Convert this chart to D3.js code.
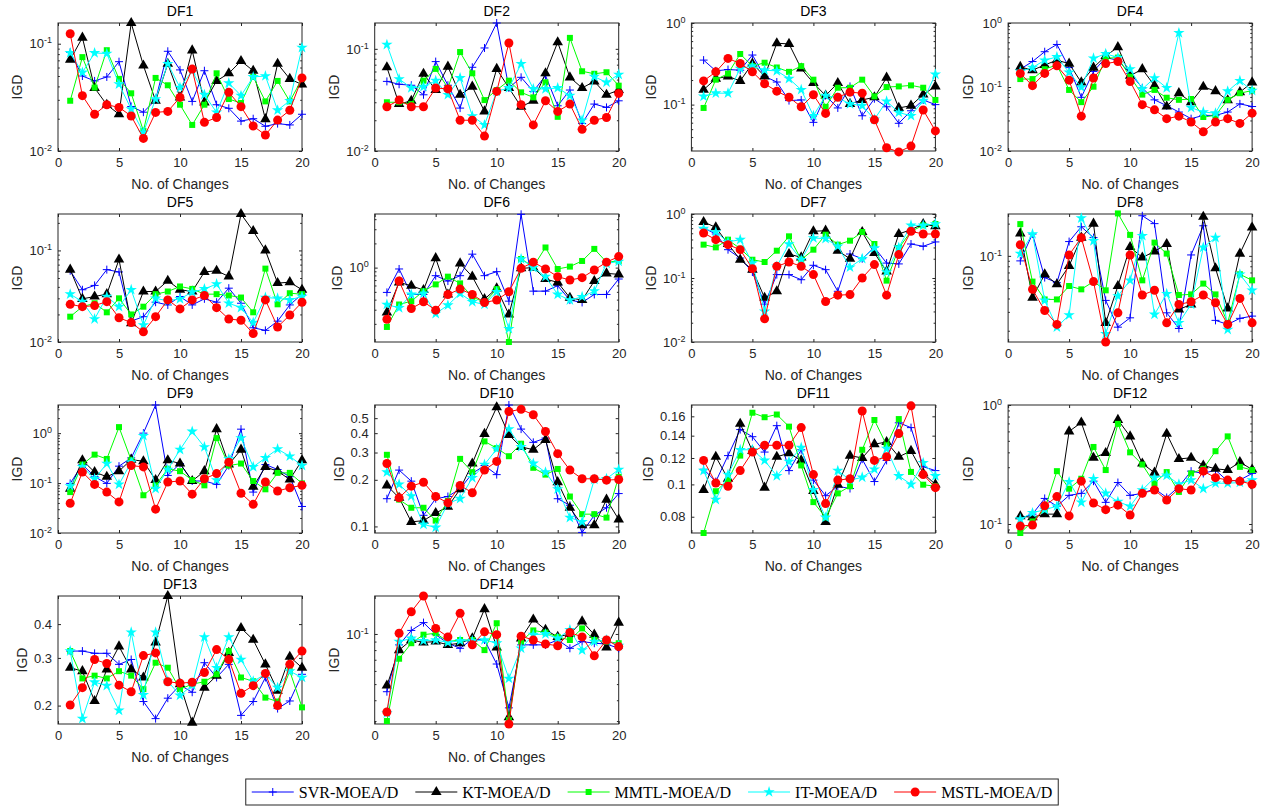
<!DOCTYPE html>
<meta charset="utf-8">
<title>IGD vs number of changes</title>
<style>

body {
  margin: 0;
  background: #fff;
}

svg {
  font-family: "Liberation Sans", Arial, sans-serif;
}

.axis text {
  fill: #262626;
  font-size: 13px;
}

.axis line {
  stroke: #262626;
}

</style>
<body>
<script src="https://d3js.org/d3.v7.min.js"></script>
<script>

var problems = ["DF1", "DF2", "DF3", "DF4", "DF5", "DF6", "DF7", "DF8", "DF9", "DF10", "DF11", "DF12", "DF13", "DF14"];
var algorithms = ["SVR-MOEA/D", "KT-MOEA/D", "MMTL-MOEA/D", "IT-MOEA/D", "MSTL-MOEA/D"];
var changes = d3.range(1, 21);
var xTicks = [0, 5, 10, 15, 20];

// y limits of every panel (log axes)
var yLimits = [
  [0.01, 0.156], [0.01, 0.179], [0.027, 1], [0.01, 1],
  [0.01, 0.25], [0.119, 4.64], [0.01, 1], [0.0157, 0.246],
  [0.01, 3.66], [0.0907, 0.608], [0.0715, 0.173], [0.084, 1],
  [0.171, 0.508], [0.0288, 0.169]
];

// panels that show plain decimal tick labels instead of powers of ten
var decimalTicks = {
  DF10: [0.1, 0.2, 0.3, 0.4, 0.5],
  DF11: [0.08, 0.1, 0.12, 0.14, 0.16],
  DF13: [0.2, 0.3, 0.4]
};

var svr = [
  [0.083,0.050,0.045,0.049,0.068,0.026,0.023,0.030,0.085,0.057,0.029,0.056,0.027,0.025,0.019,0.020,0.017,0.018,0.0175,0.022],
  [0.048,0.045,0.044,0.0355,0.075,0.044,0.0263,0.066,0.102,0.179,0.0414,0.0526,0.0383,0.0547,0.0277,0.0395,0.0186,0.0288,0.0267,0.031],
  [0.351,0.259,0.269,0.264,0.405,0.222,0.189,0.112,0.114,0.0606,0.129,0.091,0.167,0.073,0.118,0.094,0.059,0.084,0.114,0.1],
  [0.19,0.25,0.356,0.462,0.201,0.069,0.175,0.288,0.262,0.163,0.097,0.063,0.051,0.0406,0.032,0.036,0.036,0.0406,0.0545,0.0495],
  [0.060,0.0372,0.0415,0.0617,0.0582,0.0169,0.0189,0.0272,0.0254,0.0314,0.0254,0.0296,0.0272,0.0387,0.0265,0.0143,0.0134,0.0169,0.0254,0.0333],
  [0.492,0.962,0.464,0.464,0.794,0.681,0.794,1.47,0.794,0.891,0.383,4.6,0.51,0.51,0.596,0.395,0.369,0.464,0.464,0.722],
  [0.604,0.487,0.277,0.205,0.124,0.039,0.113,0.113,0.094,0.158,0.135,0.062,0.237,0.2,0.301,0.171,0.166,0.34,0.313,0.366],
  [0.0898,0.16,0.0627,0.0562,0.136,0.187,0.148,0.0384,0.0216,0.0264,0.237,0.2,0.0294,0.021,0.102,0.191,0.025,0.0229,0.0261,0.0274],
  [0.0985,0.235,0.134,0.0985,0.218,0.319,1.0,3.66,0.142,0.246,0.11,0.11,0.094,0.224,1.2,0.066,0.235,0.187,0.134,0.034],
  [0.151,0.231,0.196,0.118,0.151,0.156,0.175,0.22,0.247,0.216,0.608,0.425,0.349,0.372,0.151,0.137,0.0915,0.118,0.132,0.163],
  [0.111,0.102,0.122,0.146,0.139,0.125,0.150,0.110,0.127,0.103,0.0925,0.0987,0.0972,0.119,0.102,0.118,0.153,0.148,0.113,0.110],
  [0.111,0.121,0.164,0.141,0.174,0.181,0.229,0.152,0.223,0.174,0.181,0.198,0.167,0.206,0.278,0.266,0.284,0.229,0.234,0.266],
  [0.318,0.318,0.312,0.312,0.284,0.296,0.207,0.179,0.213,0.238,0.224,0.288,0.254,0.284,0.184,0.207,0.254,0.195,0.208,0.261],
  [0.045,0.086,0.105,0.117,0.099,0.088,0.082,0.093,0.092,0.066,0.036,0.086,0.086,0.086,0.092,0.082,0.090,0.088,0.087,0.082]
];

var kt = [
  [0.071,0.114,0.0387,0.027,0.022,0.156,0.0626,0.0294,0.065,0.0316,0.0866,0.0284,0.045,0.053,0.069,0.056,0.0198,0.065,0.047,0.0416],
  [0.066,0.0288,0.031,0.057,0.0395,0.067,0.0355,0.0426,0.0244,0.0636,0.0414,0.0271,0.031,0.0576,0.116,0.0526,0.0414,0.048,0.0355,0.0395],
  [0.152,0.208,0.222,0.195,0.319,0.222,0.565,0.554,0.277,0.184,0.129,0.184,0.102,0.114,0.123,0.214,0.091,0.097,0.133,0.167],
  [0.206,0.183,0.221,0.262,0.232,0.118,0.201,0.305,0.42,0.15,0.19,0.105,0.0495,0.08,0.058,0.101,0.086,0.062,0.083,0.118],
  [0.0617,0.0296,0.0314,0.0333,0.0796,0.016,0.0356,0.0356,0.0467,0.0372,0.0356,0.0582,0.060,0.052,0.25,0.163,0.1,0.044,0.045,0.0372],
  [0.277,0.655,0.596,0.526,1.31,0.464,1.13,0.772,0.406,0.552,0.261,0.98,1.0,0.722,0.655,0.422,0.395,0.681,0.849,0.825],
  [0.75,0.619,0.34,0.193,0.135,0.049,0.062,0.237,0.21,0.536,0.549,0.267,0.2,0.523,0.246,0.127,0.487,0.569,0.698,0.642],
  [0.162,0.0407,0.0673,0.0543,0.0806,0.148,0.2,0.0237,0.0523,0.121,0.0965,0.11,0.129,0.0316,0.0352,0.232,0.0766,0.0323,0.105,0.184],
  [0.0771,0.287,0.166,0.134,0.173,0.295,0.273,0.115,0.287,0.246,0.11,0.173,1.2,0.235,0.467,0.0846,0.211,0.173,0.118,0.287],
  [0.184,0.153,0.107,0.109,0.122,0.134,0.174,0.255,0.396,0.588,0.39,0.326,0.313,0.362,0.193,0.132,0.102,0.102,0.149,0.111],
  [0.0963,0.121,0.104,0.152,0.126,0.0978,0.121,0.124,0.118,0.0956,0.0772,0.0998,0.122,0.12,0.132,0.134,0.121,0.126,0.108,0.1],
  [0.116,0.114,0.121,0.121,0.6,0.712,0.36,0.395,0.75,0.545,0.322,0.27,0.573,0.352,0.36,0.31,0.291,0.284,0.331,0.287],
  [0.276,0.268,0.208,0.272,0.331,0.272,0.254,0.342,0.508,0.240,0.173,0.233,0.258,0.313,0.387,0.350,0.284,0.227,0.303,0.276],
  [0.049,0.080,0.092,0.089,0.090,0.086,0.088,0.094,0.141,0.083,0.0316,0.094,0.122,0.106,0.096,0.1,0.119,0.099,0.083,0.117]
];

var mmtl = [
  [0.0294,0.075,0.039,0.087,0.047,0.0345,0.0154,0.048,0.041,0.027,0.0175,0.027,0.053,0.0305,0.028,0.049,0.029,0.045,0.029,0.047],
  [0.03,0.03,0.0288,0.0488,0.0636,0.0414,0.093,0.0576,0.0315,0.0395,0.0488,0.0375,0.0335,0.047,0.0216,0.128,0.0603,0.057,0.059,0.0436],
  [0.091,0.202,0.24,0.417,0.296,0.326,0.285,0.252,0.296,0.202,0.094,0.161,0.161,0.202,0.126,0.164,0.167,0.172,0.161,0.114],
  [0.133,0.133,0.19,0.221,0.09,0.058,0.101,0.281,0.288,0.145,0.076,0.09,0.068,0.063,0.065,0.034,0.036,0.063,0.08,0.088],
  [0.0189,0.0243,0.0265,0.0211,0.030,0.02,0.0243,0.0333,0.0356,0.0404,0.038,0.0333,0.0333,0.0322,0.0306,0.0211,0.0633,0.0258,0.0341,0.0333],
  [0.183,0.348,0.383,0.51,0.619,0.772,0.637,0.434,0.369,0.541,0.119,1.28,1.03,1.78,0.962,1.03,1.21,1.71,1.17,1.21],
  [0.332,0.301,0.397,0.287,0.193,0.178,0.267,0.448,0.193,0.277,0.475,0.332,0.383,0.523,0.34,0.091,0.294,0.536,0.665,0.698],
  [0.198,0.0575,0.0392,0.0392,0.0523,0.0487,0.0575,0.0477,0.249,0.157,0.0591,0.133,0.105,0.0431,0.0437,0.0551,0.0437,0.0237,0.0673,0.0591],
  [0.066,0.235,0.371,0.304,1.32,0.287,0.057,0.09,0.193,0.173,0.115,0.09,0.796,0.224,0.246,0.11,0.075,0.16,0.16,0.0985],
  [0.29,0.149,0.132,0.132,0.109,0.146,0.273,0.224,0.354,0.32,0.284,0.342,0.239,0.216,0.235,0.156,0.12,0.12,0.114,0.209],
  [0.0715,0.0954,0.103,0.122,0.164,0.159,0.162,0.149,0.114,0.0885,0.0796,0.094,0.0987,0.127,0.156,0.131,0.157,0.109,0.0998,0.0987],
  [0.084,0.105,0.133,0.278,0.198,0.24,0.444,0.284,0.694,0.4,0.316,0.22,0.273,0.186,0.266,0.291,0.409,0.545,0.302,0.284],
  [0.318,0.252,0.258,0.252,0.268,0.258,0.230,0.288,0.276,0.230,0.240,0.245,0.261,0.318,0.254,0.246,0.214,0.207,0.268,0.197],
  [0.030,0.071,0.088,0.099,0.101,0.09,0.092,0.092,0.08,0.116,0.0304,0.09,0.105,0.102,0.096,0.092,0.108,0.092,0.09,0.088]
];

var it = [
  [0.082,0.054,0.082,0.081,0.042,0.0246,0.0149,0.0305,0.065,0.039,0.056,0.0335,0.0229,0.043,0.0328,0.049,0.05,0.024,0.0294,0.092],
  [0.11,0.0507,0.0414,0.0426,0.0488,0.0355,0.0519,0.022,0.018,0.0383,0.0414,0.0712,0.0405,0.0405,0.0414,0.0348,0.02,0.0534,0.047,0.056],
  [0.126,0.138,0.138,0.277,0.296,0.264,0.259,0.208,0.152,0.073,0.129,0.121,0.102,0.097,0.066,0.11,0.08,0.073,0.112,0.235],
  [0.175,0.201,0.262,0.295,0.169,0.099,0.281,0.331,0.288,0.19,0.093,0.138,0.097,0.70,0.0475,0.0406,0.039,0.086,0.125,0.088],
  [0.0333,0.0276,0.0178,0.0314,0.0243,0.0372,0.0153,0.030,0.0281,0.0296,0.035,0.038,0.0429,0.0265,0.0237,0.0163,0.0306,0.030,0.0288,0.0314],
  [0.348,0.316,0.464,0.478,0.268,0.341,0.478,0.376,0.348,0.501,0.174,1.28,1.0,0.772,0.464,0.395,0.434,0.51,1.13,1.19],
  [0.59,0.523,0.366,0.397,0.171,0.03,0.152,0.34,0.193,0.422,0.412,0.313,0.147,0.2,0.294,0.124,0.301,0.665,0.665,0.698],
  [0.105,0.16,0.0384,0.0216,0.028,0.225,0.138,0.0187,0.0422,0.0591,0.154,0.0284,0.0443,0.0237,0.0352,0.12,0.148,0.0205,0.0673,0.0477],
  [0.087,0.211,0.122,0.246,0.094,0.262,0.885,0.0771,0.187,0.467,1.08,0.527,0.115,0.304,0.796,0.211,0.319,0.48,0.344,0.224],
  [0.224,0.187,0.157,0.103,0.0985,0.141,0.151,0.206,0.251,0.316,0.425,0.326,0.255,0.224,0.174,0.114,0.107,0.201,0.203,0.233],
  [0.11,0.09,0.107,0.127,0.127,0.118,0.106,0.117,0.129,0.0963,0.0796,0.11,0.103,0.105,0.111,0.128,0.106,0.1,0.116,0.106],
  [0.11,0.124,0.132,0.141,0.226,0.152,0.24,0.181,0.154,0.141,0.193,0.245,0.256,0.216,0.234,0.198,0.22,0.22,0.223,0.234],
  [0.318,0.179,0.244,0.237,0.192,0.373,0.219,0.373,0.246,0.218,0.238,0.358,0.276,0.358,0.296,0.246,0.261,0.233,0.268,0.254],
  [0.0335,0.09,0.094,0.091,0.092,0.089,0.091,0.091,0.092,0.088,0.054,0.082,0.099,0.1,0.094,0.106,0.08,0.09,0.092,0.085]
];

var mstl = [
  [0.124,0.0328,0.022,0.027,0.0255,0.0212,0.0131,0.0229,0.0234,0.0316,0.058,0.0185,0.0205,0.0352,0.0259,0.0171,0.0141,0.0194,0.024,0.048],
  [0.0271,0.0315,0.0271,0.0271,0.0414,0.0405,0.02,0.02,0.014,0.0383,0.114,0.0284,0.018,0.031,0.0244,0.0288,0.0163,0.02,0.0213,0.0366],
  [0.195,0.252,0.368,0.319,0.252,0.18,0.146,0.123,0.094,0.132,0.078,0.123,0.142,0.138,0.065,0.0296,0.0263,0.031,0.086,0.0476],
  [0.163,0.105,0.163,0.214,0.128,0.035,0.138,0.232,0.25,0.122,0.053,0.044,0.032,0.035,0.0284,0.02,0.0284,0.032,0.027,0.039],
  [0.0258,0.0243,0.025,0.0276,0.0184,0.0163,0.0129,0.0189,0.0288,0.023,0.0288,0.0322,0.0237,0.0178,0.0173,0.0124,0.0288,0.0146,0.0197,0.0272],
  [0.228,0.681,0.31,0.376,0.296,0.464,0.541,0.464,0.369,0.395,0.501,0.98,1.17,0.962,0.772,0.701,0.75,0.935,1.17,1.37],
  [0.505,0.397,0.332,0.277,0.14,0.023,0.152,0.178,0.152,0.113,0.043,0.054,0.055,0.1,0.162,0.054,0.232,0.536,0.487,0.487],
  [0.127,0.0487,0.0309,0.0229,0.102,0.148,0.0575,0.0157,0.0294,0.102,0.0431,0.0477,0.0237,0.0352,0.0373,0.0431,0.0365,0.0229,0.0401,0.0237],
  [0.0394,0.166,0.094,0.066,0.042,0.224,0.211,0.03,0.105,0.11,0.06,0.122,0.155,0.262,0.0625,0.0375,0.105,0.0694,0.0806,0.09],
  [0.255,0.153,0.182,0.193,0.156,0.142,0.184,0.165,0.231,0.263,0.552,0.57,0.526,0.41,0.295,0.231,0.203,0.203,0.199,0.201],
  [0.118,0.101,0.0987,0.11,0.125,0.131,0.131,0.131,0.148,0.107,0.0876,0.103,0.104,0.166,0.118,0.121,0.142,0.172,0.107,0.0978],
  [0.096,0.098,0.142,0.17,0.117,0.229,0.15,0.132,0.144,0.119,0.181,0.193,0.159,0.198,0.193,0.278,0.245,0.234,0.229,0.216],
  [0.201,0.233,0.296,0.286,0.238,0.225,0.306,0.313,0.245,0.242,0.244,0.265,0.322,0.296,0.222,0.237,0.263,0.2,0.284,0.318],
  [0.034,0.101,0.136,0.169,0.108,0.096,0.133,0.086,0.103,0.099,0.0288,0.097,0.092,0.087,0.085,0.102,0.096,0.074,0.092,0.084]
];

var seriesData = [svr, kt, mmtl, it, mstl];

var w = 1273,
    h = 807,
    colX = [58, 374.7, 691.4, 1008.1],
    rowY = [23, 214, 405, 596],
    pw = 244,
    ph = 128;

var styles = [
  {color: "#0000ff", marker: "plus"},
  {color: "#000000", marker: "triangle"},
  {color: "#00ff00", marker: "square"},
  {color: "#00ffff", marker: "star"},
  {color: "#ff0000", marker: "circle"}
];

var svg = d3.select("body").append("svg")
    .attr("width", w)
    .attr("height", h);

function drawMarker(sel, style) {
  if (style.marker == "plus") {
    sel.append("path")
        .attr("d", "M-4,0H4M0,-4V4")
        .attr("stroke", style.color)
        .attr("stroke-width", 1)
        .attr("fill", "none");
  } else if (style.marker == "circle") {
    sel.append("circle")
        .attr("r", 4.5)
        .attr("fill", style.color);
  } else {
    var type = {triangle: d3.symbolTriangle, square: d3.symbolSquare, star: d3.symbolStar}[style.marker];
    var size = {triangle: 48, square: 36, star: 40}[style.marker];
    sel.append("path")
        .attr("d", d3.symbol().type(type).size(size)())
        .attr("fill", style.color);
  }
}

function decadeTicks(lim) {
  var major = [], minor = [];
  for (var k = -3; k <= 1; k++) {
    for (var m = 1; m <= 9; m++) {
      var v = m * Math.pow(10, k);
      if (v >= lim[0] * 0.999 && v <= lim[1] * 1.001) (m == 1 ? major : minor).push(v);
    }
  }
  return {major: major, minor: minor};
}

problems.forEach(function(name, i) {
  var g = svg.append("g")
      .attr("transform", "translate(" + colX[i % 4] + "," + rowY[Math.floor(i / 4)] + ")");

  var x = d3.scaleLinear().domain([0, 20]).range([0, pw]);
  var y = d3.scaleLog().domain(yLimits[i]).range([ph, 0]);

  var dt = decadeTicks(yLimits[i]);
  var major = decimalTicks[name] || dt.major;
  var minor = decimalTicks[name] ? [] : dt.minor;

  // x axis bottom / top
  g.append("g").attr("class", "axis")
      .attr("transform", "translate(0," + ph + ")")
      .call(d3.axisBottom(x).tickValues(xTicks).tickSize(-3).tickPadding(7));
  g.append("g").attr("class", "axis")
      .call(d3.axisTop(x).tickValues(xTicks).tickSize(-3).tickFormat(""));

  // y axis left / right
  var left = g.append("g").attr("class", "axis")
      .call(d3.axisLeft(y).tickValues(major).tickSize(-3).tickPadding(6)
        .tickFormat(decimalTicks[name] ? function(d) { return String(d); } : function() { return ""; }));
  g.append("g").attr("class", "axis")
      .attr("transform", "translate(" + pw + ",0)")
      .call(d3.axisRight(y).tickValues(major).tickSize(-3).tickFormat(""));
  g.append("g").attr("class", "axis")
      .call(d3.axisLeft(y).tickValues(minor).tickSize(-1.8).tickFormat(""));
  g.append("g").attr("class", "axis")
      .attr("transform", "translate(" + pw + ",0)")
      .call(d3.axisRight(y).tickValues(minor).tickSize(-1.8).tickFormat(""));
  g.selectAll(".axis .domain").remove();

  if (!decimalTicks[name]) {
    left.selectAll(".tick text").each(function(d) {
      var t = d3.select(this);
      t.append("tspan").text("10");
      t.append("tspan")
          .attr("dy", "-0.55em")
          .attr("font-size", "9px")
          .text(String(Math.round(Math.log10(d))));
    });
  }

  g.append("rect")
      .attr("width", pw)
      .attr("height", ph)
      .attr("fill", "none")
      .attr("stroke", "#262626")
      .attr("stroke-width", 1);

  // series
  var line = d3.line()
      .x(function(d, j) { return x(changes[j]); })
      .y(function(d) { return y(d); });

  seriesData.forEach(function(s, a) {
    var vals = s[i];
    g.append("path")
        .attr("d", line(vals))
        .attr("fill", "none")
        .attr("stroke", styles[a].color)
        .attr("stroke-width", 1);
    g.append("g").selectAll("g")
        .data(vals)
      .enter().append("g")
        .attr("transform", function(d, j) { return "translate(" + x(changes[j]) + "," + y(d) + ")"; })
        .each(function() { drawMarker(d3.select(this), styles[a]); });
  });

  // labels
  g.append("text")
      .attr("x", pw / 2)
      .attr("y", -7)
      .attr("text-anchor", "middle")
      .attr("font-size", 14)
      .attr("fill", "#000")
      .text(name);

  g.append("text")
      .attr("x", pw / 2)
      .attr("y", ph + 38)
      .attr("text-anchor", "middle")
      .attr("font-size", 14)
      .attr("fill", "#262626")
      .text("No. of Changes");

  var minX = d3.min(left.selectAll(".tick text").nodes(), function(n) { return n.getBBox().x; }) || -30;
  g.append("text")
      .attr("transform", "translate(" + (minX - 12) + "," + ph / 2 + ") rotate(-90)")
      .attr("text-anchor", "middle")
      .attr("dy", "0.35em")
      .attr("font-size", 14)
      .attr("fill", "#262626")
      .text("IGD");
});

// legend
var legend = svg.append("g")
    .attr("font-family", "'Liberation Serif', 'Times New Roman', serif")
    .attr("font-size", 16);

var lx = 6;
algorithms.forEach(function(name, a) {
  var item = legend.append("g").attr("transform", "translate(" + lx + ",0)");
  item.append("line")
      .attr("x1", 0).attr("x2", 42)
      .attr("stroke", styles[a].color)
      .attr("stroke-width", 1);
  drawMarker(item.append("g").attr("transform", "translate(21,0)"), styles[a]);
  var t = item.append("text")
      .attr("x", 47)
      .attr("dy", "0.35em")
      .attr("fill", "#000")
      .text(name);
  lx += 47 + t.node().getComputedTextLength() + 17;
});
var lw = lx - 17 + 6;
var lx0 = 652 - lw / 2;
legend.attr("transform", "translate(" + lx0 + ",792)");
legend.insert("rect", ":first-child")
    .attr("x", 0)
    .attr("y", -13)
    .attr("width", lw)
    .attr("height", 26)
    .attr("fill", "#fff")
    .attr("stroke", "#262626")
    .attr("stroke-width", 1);

</script>
